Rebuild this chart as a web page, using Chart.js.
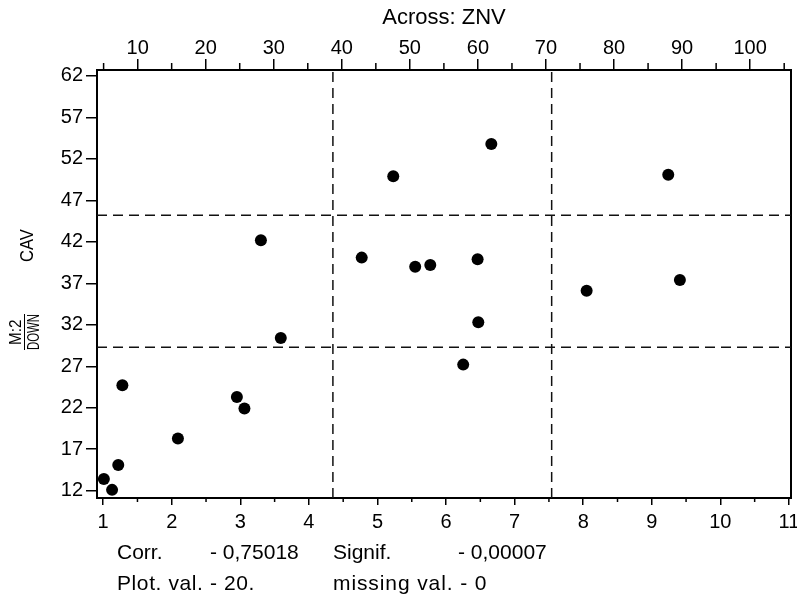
<!DOCTYPE html>
<html>
<head>
<meta charset="utf-8">
<script src="https://cdn.jsdelivr.net/npm/chart.js@4.4.0/dist/chart.umd.min.js"></script>
<style>
  html, body { margin: 0; padding: 0; background: #fff; }
  #wrap { position: relative; width: 797px; height: 598px; font-family: "Liberation Sans", Arial, sans-serif; color: #000; }
  #wrap canvas { position: absolute; left: 0; top: 0; }
  .st { position: absolute; font-size: 21px; line-height: 24px; white-space: pre; }
  #ylab { position: absolute; left: -37px; top: 273px; width: 122px; height: 32px; transform: rotate(-90deg); }
  #ylab span { position: absolute; white-space: pre; transform-origin: 0 0; }
  #ylab .bar { position: absolute; left: 0; top: 16px; width: 36px; height: 0; border-top: 1.5px solid #000; }
</style>
</head>
<body>
<div id="wrap">
  <canvas id="plot" width="797" height="598"></canvas>

  <!-- y title: fraction M:2 over DOWN, then CAV -->
  <div id="ylab">
    <span style="left:5px;top:0px;font-size:16px;line-height:16px;transform:scaleX(0.95)">M:2</span>
    <div class="bar"></div>
    <span style="left:0;top:18px;font-size:16px;line-height:16px;transform:scaleX(0.71)">DOWN</span>
    <span style="left:88px;top:10px;font-size:18px;line-height:18px;transform:scaleX(0.92)">CAV</span>
  </div>

  <div class="st" style="left:117px;top:540px">Corr.</div>
  <div class="st" style="left:210px;top:540px">- 0,75018</div>
  <div class="st" style="left:333px;top:540px">Signif.</div>
  <div class="st" style="left:458px;top:540px">- 0,00007</div>
  <div class="st" style="left:117px;top:571px;letter-spacing:0.6px">Plot. val. - 20.</div>
  <div class="st" style="left:333px;top:571px;letter-spacing:0.9px">missing val. - 0</div>
</div>
<script>
// values (bottom scale / left scale)
const xVals = [1.01, 1.13, 1.22, 1.28, 2.09, 2.95, 3.06, 3.59, 3.30, 6.66,
               5.23, 9.24, 4.77, 5.55, 5.77, 6.46, 9.41, 8.05, 6.47, 6.25];
const yVals = [13.4, 12.1, 15.1, 24.7, 18.3, 23.3, 21.9, 30.4, 42.2, 53.8,
               49.9, 50.1, 40.1, 39.0, 39.2, 39.9, 37.4, 36.1, 32.3, 27.2];

const xTicks = [1, 2, 3, 4, 5, 6, 7, 8, 9, 10, 11];
const xMinor = [1.5, 2.5, 3.5, 4.5, 5.5, 6.5, 7.5, 8.5, 9.5, 10.5];
const topTicks = [10, 20, 30, 40, 50, 60, 70, 80, 90, 100];
const topMinor = [5, 15, 25, 35, 45, 55, 65, 75, 85, 95, 105];
const yTicks = [12, 17, 22, 27, 32, 37, 42, 47, 52, 57, 62];

const xRange = [0.91, 11.03];
const topRange = [4.03, 106.0];
const yRange = [11.12, 62.72];

// dashed split lines
const vCuts = [4.35, 7.54];
const hCuts = [45.2, 29.3];

const FONT = { family: '"Liberation Sans", Arial, sans-serif', size: 20 };

const setTicks = vals => scale => { scale.ticks = vals.map(v => ({ value: v })); };

const points = xVals.map((x, i) => ({ x, y: yVals[i] }));

const cutSets = [
  ...vCuts.map(v => [{ x: v, y: yRange[0] }, { x: v, y: yRange[1] }]),
  ...hCuts.map(h => [{ x: xRange[0], y: h }, { x: xRange[1], y: h }])
].map(d => ({
  type: 'line', data: d, borderColor: '#111', borderWidth: 1.5,
  borderDash: [10, 6], pointRadius: 0, fill: false, xAxisID: 'x', yAxisID: 'y'
}));

const minorTicks = {
  id: 'minorTicks',
  afterDraw(chart) {
    const { ctx, chartArea: a, scales } = chart;
    ctx.save();
    ctx.strokeStyle = '#000';
    ctx.lineWidth = 1.5;
    ctx.beginPath();
    xMinor.forEach(v => {
      const p = scales.x.getPixelForValue(v);
      ctx.moveTo(p, a.bottom); ctx.lineTo(p, a.bottom + 4);
    });
    topMinor.forEach(v => {
      const p = scales.x2.getPixelForValue(v);
      ctx.moveTo(p, a.top); ctx.lineTo(p, a.top - 7);
    });
    ctx.stroke();
    ctx.restore();
  }
};

// keep the plot box fixed: labels may run past the edges like in the original
const fixH = h => s => { s.height = h; s.paddingLeft = 0; s.paddingRight = 0; };
const fixW = w => s => { s.width = w; s.paddingTop = 0; s.paddingBottom = 0; };

const axisGrid = len => ({ drawOnChartArea: false, drawTicks: true, tickLength: len, color: '#000', lineWidth: 1.5 });
const axisBorder = { display: true, color: '#000', width: 2 };

new Chart(document.getElementById('plot').getContext('2d'), {
  data: {
    datasets: [
      ...cutSets,
      { type: 'scatter', data: points, pointRadius: 6, pointHoverRadius: 6,
        backgroundColor: '#000', borderColor: '#000', borderWidth: 0, xAxisID: 'x', yAxisID: 'y' }
    ]
  },
  options: {
    responsive: false, animation: false, devicePixelRatio: 1,
    layout: { padding: 0 },
    plugins: { legend: { display: false }, tooltip: { enabled: false } },
    scales: {
      x: {
        type: 'linear', position: 'bottom', min: xRange[0], max: xRange[1],
        afterBuildTicks: setTicks(xTicks),
        afterFit: fixH(100),
        ticks: { color: '#000', font: FONT, padding: 5, maxRotation: 0 },
        grid: axisGrid(7), border: axisBorder
      },
      x2: {
        type: 'linear', position: 'top', min: topRange[0], max: topRange[1],
        afterBuildTicks: setTicks(topTicks),
        afterFit: fixH(70),
        ticks: { color: '#000', font: FONT, padding: -1, maxRotation: 0 },
        grid: axisGrid(11), border: axisBorder,
        title: { display: true, text: 'Across: ZNV', color: '#000', font: { ...FONT, size: 22 }, padding: { top: 5, bottom: 0 } }
      },
      y: {
        type: 'linear', position: 'left', min: yRange[0], max: yRange[1],
        afterBuildTicks: setTicks(yTicks),
        afterFit: fixW(97),
        ticks: { color: '#000', font: FONT, padding: 3 },
        grid: axisGrid(11), border: axisBorder
      },
      y2: {
        type: 'linear', position: 'right', min: yRange[0], max: yRange[1],
        afterFit: fixW(4),
        ticks: { display: false },
        grid: { drawOnChartArea: false, drawTicks: false },
        border: axisBorder
      }
    }
  },
  plugins: [minorTicks]
});
</script>
</body>
</html>
